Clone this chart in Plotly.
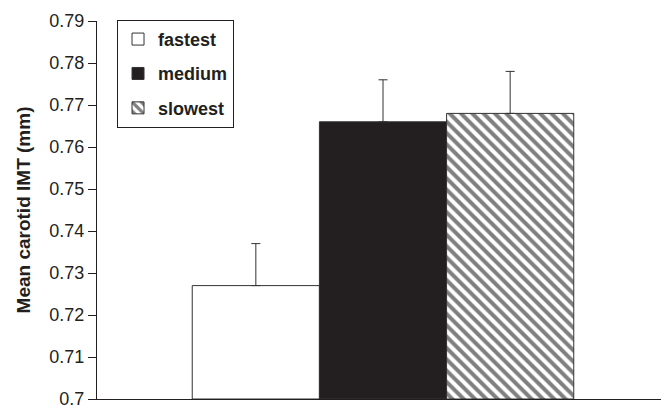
import plotly.graph_objects as go

groups = ["fastest", "medium", "slowest"]
means = [0.727, 0.766, 0.768]
errors = [0.010, 0.010, 0.010]
fills = ["white", "#231f20", "white"]
patterns = ["", "", "\\"]

fig = go.Figure()
for i, g in enumerate(groups):
    fig.add_trace(go.Bar(
        name=g,
        x=["all"],
        y=[means[i] - 0.7],
        base=0.7,
        marker=dict(
            color=fills[i],
            line=dict(color="#333333", width=1),
            pattern=dict(shape=patterns[i], fgcolor="#000000", bgcolor="white",
                         size=8, solidity=0.5, fillmode="overlay") if patterns[i] else None,
        ),
        error_y=dict(type="data", array=[errors[i]], arrayminus=[0], symmetric=False,
                     color="#333333", thickness=1, width=4.5),
        legendgroup=g,
    ))

FONT = "Arial, Liberation Sans, sans-serif"
fig.update_layout(
    width=669, height=408,
    margin=dict(l=89, r=8, t=13, b=17, autoexpand=False),
    paper_bgcolor="white", plot_bgcolor="white",
    barmode="group", bargap=0.333, bargroupgap=0,
    font=dict(family=FONT, color="#231f20"),
    showlegend=True,
    legend=dict(x=0.035, y=1.003, xanchor="left", yanchor="top",
                bordercolor="#231f20", borderwidth=1, bgcolor="white",
                font=dict(size=18, family=FONT, weight="bold"),
                tracegroupgap=8, traceorder="grouped", itemwidth=30),
    xaxis=dict(showticklabels=False, ticks="", showline=True, linecolor="#231f20",
               linewidth=1, showgrid=False, zeroline=False),
    yaxis=dict(range=[0.7, 0.79], dtick=0.01, tickformat="~g", ticks="outside", ticklen=8,
               tickcolor="#231f20", showline=True, linecolor="#231f20", linewidth=1,
               showgrid=False, zeroline=False, automargin=False,
               tickfont=dict(size=18, family=FONT),
               title=dict(text="Mean carotid IMT (mm)", standoff=13,
                          font=dict(size=19, family=FONT, weight="bold"))),
)

fig.write_html("out.html")
